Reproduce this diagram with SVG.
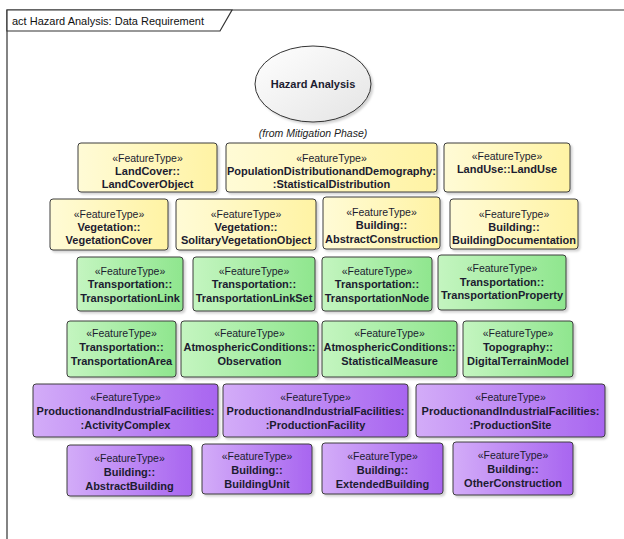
<svg xmlns="http://www.w3.org/2000/svg" width="624" height="539" viewBox="0 0 624 539">
<defs>
<linearGradient id="gy" x1="0" y1="0" x2="1" y2="0"><stop offset="0" stop-color="#fffbd6"/><stop offset="1" stop-color="#fff3a4"/></linearGradient>
<linearGradient id="gg" x1="0" y1="0" x2="1" y2="0"><stop offset="0" stop-color="#c4f5c0"/><stop offset="1" stop-color="#8fe68e"/></linearGradient>
<linearGradient id="gp" x1="0" y1="0" x2="1" y2="0"><stop offset="0" stop-color="#d3acf8"/><stop offset="1" stop-color="#a865f0"/></linearGradient>
<linearGradient id="ge" x1="0" y1="0" x2="1" y2="1"><stop offset="0" stop-color="#ffffff"/><stop offset="1" stop-color="#e4e4e4"/></linearGradient>
<filter id="sh" x="-10%" y="-10%" width="130%" height="130%"><feDropShadow dx="2" dy="2" stdDeviation="1.2" flood-color="#000" flood-opacity="0.18"/></filter>
</defs>
<style>
.frame{fill:none;stroke:#333;stroke-width:1.2}
.tab{fill:#fff;stroke:#333;stroke-width:1.2}
.title{font-family:"Liberation Sans",Arial,sans-serif;font-size:11px;fill:#111}
.b{stroke:#3c3c3c;stroke-width:1;filter:url(#sh)}
.y{fill:url(#gy)}
.g{fill:url(#gg)}
.p{fill:url(#gp)}
.st{font-family:"Liberation Sans",Arial,sans-serif;font-size:10.5px;fill:#1c1c30;text-anchor:middle}
.nm{font-family:"Liberation Sans",Arial,sans-serif;font-size:11px;font-weight:bold;fill:#1c1c30;text-anchor:middle}
.el{fill:url(#ge);stroke:#333;stroke-width:1;filter:url(#sh)}
.it{font-family:"Liberation Sans",Arial,sans-serif;font-size:10.5px;font-style:italic;fill:#222;text-anchor:middle}
</style>
<rect width="624" height="539" fill="#fff"/>
<g id="frame">
<path class="frame" d="M7,545 V10 H630"/>
<path class="tab" d="M7,10 H232 L220,31 H7 Z"/>
<text class="title" x="12" y="25">act Hazard Analysis: Data Requirement</text>
</g>
<g id="connectors"/>
<g id="hazard-analysis">
<ellipse class="el" cx="313" cy="84" rx="58" ry="38"/>
<text class="nm" x="313" y="88">Hazard Analysis</text>
<text class="it" x="313" y="137">(from Mitigation Phase)</text>
</g>
<g id="landcover"><rect class="b y" x="78" y="143" width="139" height="49" rx="3"/><text class="st" x="147.5" y="162">«FeatureType»</text><text class="nm" x="147.5" y="175">LandCover::</text><text class="nm" x="147.5" y="188">LandCoverObject</text></g>
<g id="population"><rect class="b y" x="226" y="143" width="211" height="49" rx="3"/><text class="st" x="331.5" y="162">«FeatureType»</text><text class="nm" x="331.5" y="175">PopulationDistributionandDemography:</text><text class="nm" x="331.5" y="188">:StatisticalDistribution</text></g>
<g id="landuse"><rect class="b y" x="444" y="143" width="126" height="49" rx="3"/><text class="st" x="507" y="160">«FeatureType»</text><text class="nm" x="507" y="173">LandUse::LandUse</text></g>
<g id="vegetationcover"><rect class="b y" x="50" y="199" width="118" height="51" rx="3"/><text class="st" x="109" y="218">«FeatureType»</text><text class="nm" x="109" y="231">Vegetation::</text><text class="nm" x="109" y="244">VegetationCover</text></g>
<g id="solitaryvegetation"><rect class="b y" x="176" y="199" width="140" height="51" rx="3"/><text class="st" x="246" y="218">«FeatureType»</text><text class="nm" x="246" y="231">Vegetation::</text><text class="nm" x="246" y="244">SolitaryVegetationObject</text></g>
<g id="abstractconstruction"><rect class="b y" x="323" y="197" width="117" height="52" rx="3"/><text class="st" x="381.5" y="216">«FeatureType»</text><text class="nm" x="381.5" y="229">Building::</text><text class="nm" x="381.5" y="243">AbstractConstruction</text></g>
<g id="buildingdocumentation"><rect class="b y" x="450" y="199" width="128" height="50" rx="3"/><text class="st" x="514" y="218">«FeatureType»</text><text class="nm" x="514" y="231">Building::</text><text class="nm" x="514" y="244">BuildingDocumentation</text></g>
<g id="transportationlink"><rect class="b g" x="77" y="257" width="106" height="54" rx="3"/><text class="st" x="130" y="275">«FeatureType»</text><text class="nm" x="130" y="288">Transportation::</text><text class="nm" x="130" y="302">TransportationLink</text></g>
<g id="transportationlinkset"><rect class="b g" x="193" y="257" width="122" height="54" rx="3"/><text class="st" x="254" y="275">«FeatureType»</text><text class="nm" x="254" y="288">Transportation::</text><text class="nm" x="254" y="302">TransportationLinkSet</text></g>
<g id="transportationnode"><rect class="b g" x="322" y="257" width="110" height="54" rx="3"/><text class="st" x="377" y="275">«FeatureType»</text><text class="nm" x="377" y="288">Transportation::</text><text class="nm" x="377" y="302">TransportationNode</text></g>
<g id="transportationproperty"><rect class="b g" x="438" y="255" width="128" height="55" rx="3"/><text class="st" x="502" y="272">«FeatureType»</text><text class="nm" x="502" y="286">Transportation::</text><text class="nm" x="502" y="299">TransportationProperty</text></g>
<g id="transportationarea"><rect class="b g" x="67" y="321" width="109" height="56" rx="3"/><text class="st" x="121.5" y="337">«FeatureType»</text><text class="nm" x="121.5" y="351">Transportation::</text><text class="nm" x="121.5" y="365">TransportationArea</text></g>
<g id="observation"><rect class="b g" x="181" y="321" width="137" height="56" rx="3"/><text class="st" x="249.5" y="337">«FeatureType»</text><text class="nm" x="249.5" y="351">AtmosphericConditions::</text><text class="nm" x="249.5" y="365">Observation</text></g>
<g id="statisticalmeasure"><rect class="b g" x="322" y="321" width="135" height="56" rx="3"/><text class="st" x="389.5" y="337">«FeatureType»</text><text class="nm" x="389.5" y="351">AtmosphericConditions::</text><text class="nm" x="389.5" y="365">StatisticalMeasure</text></g>
<g id="digitalterrainmodel"><rect class="b g" x="463" y="321" width="110" height="56" rx="3"/><text class="st" x="518" y="337">«FeatureType»</text><text class="nm" x="518" y="351">Topography::</text><text class="nm" x="518" y="365">DigitalTerrainModel</text></g>
<g id="activitycomplex"><rect class="b p" x="33" y="384" width="185" height="53" rx="3"/><text class="st" x="125.5" y="401">«FeatureType»</text><text class="nm" x="125.5" y="415">ProductionandIndustrialFacilities:</text><text class="nm" x="125.5" y="429">:ActivityComplex</text></g>
<g id="productionfacility"><rect class="b p" x="223" y="384" width="185" height="53" rx="3"/><text class="st" x="315.5" y="401">«FeatureType»</text><text class="nm" x="315.5" y="415">ProductionandIndustrialFacilities:</text><text class="nm" x="315.5" y="429">:ProductionFacility</text></g>
<g id="productionsite"><rect class="b p" x="416" y="384" width="189" height="53" rx="3"/><text class="st" x="510.5" y="401">«FeatureType»</text><text class="nm" x="510.5" y="415">ProductionandIndustrialFacilities:</text><text class="nm" x="510.5" y="429">:ProductionSite</text></g>
<g id="abstractbuilding"><rect class="b p" x="67" y="445" width="125" height="51" rx="3"/><text class="st" x="129.5" y="462">«FeatureType»</text><text class="nm" x="129.5" y="476">Building::</text><text class="nm" x="129.5" y="490">AbstractBuilding</text></g>
<g id="buildingunit"><rect class="b p" x="202" y="444" width="110" height="50" rx="3"/><text class="st" x="257" y="460">«FeatureType»</text><text class="nm" x="257" y="474">Building::</text><text class="nm" x="257" y="488">BuildingUnit</text></g>
<g id="extendedbuilding"><rect class="b p" x="322" y="443" width="121" height="51" rx="3"/><text class="st" x="382.5" y="460">«FeatureType»</text><text class="nm" x="382.5" y="474">Building::</text><text class="nm" x="382.5" y="488">ExtendedBuilding</text></g>
<g id="otherconstruction"><rect class="b p" x="453" y="442" width="120" height="53" rx="3"/><text class="st" x="513" y="459">«FeatureType»</text><text class="nm" x="513" y="473">Building::</text><text class="nm" x="513" y="487">OtherConstruction</text></g>
</svg>
